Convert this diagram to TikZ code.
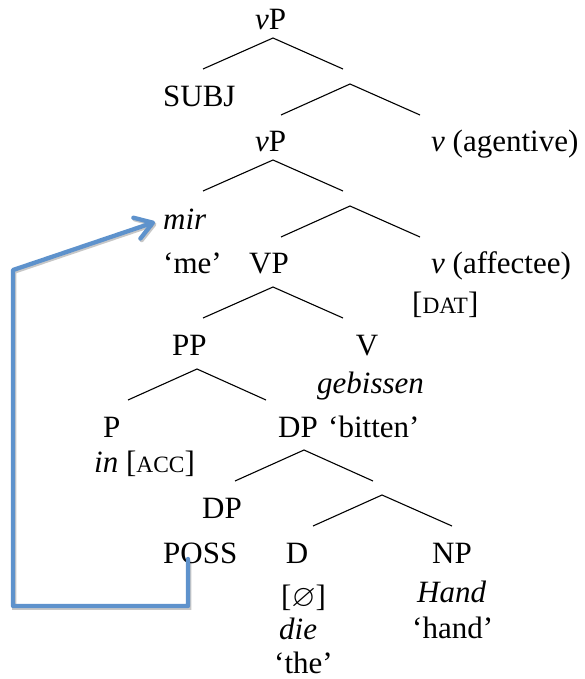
\documentclass[tikz,border=0pt]{standalone}
\usepackage{fontspec}
\setmainfont{Liberation Serif}
\usepackage{amssymb}
\usetikzlibrary{arrows.meta}
\definecolor{arrowblue}{RGB}{94,146,204}
\newcommand\fsc[1]{{\fontsize{23.4}{23.4}\selectfont #1}}
\begin{document}
\begin{tikzpicture}[x=1pt,y=-1pt,
  lbl/.style={inner sep=0pt, anchor=base west, font=\fontsize{31}{36}\selectfont},
  branch/.style={draw=black, line width=1.1pt},
  movearrow/.style={draw=arrowblue, line width=4.3pt, line join=round, line cap=round,
    -{Straight Barb[length=17pt,width=22pt,round]},
    preaction={draw=black, opacity=0.22, line width=4.3pt, transform canvas={xshift=1.3pt,yshift=-1.6pt}}}]
\useasboundingbox (0,0) rectangle (584,679);
% labels
\node[lbl] (vp1) at (255,30) {\textit{v}P};
\node[lbl] (subj) at (163,107) {SUBJ};
\node[lbl] (vp2) at (255,152) {\textit{v}P};
\node[lbl] (vag) at (431,152) {\textit{v} (agentive)};
\node[lbl] (mir) at (163,229) {\textit{mir}};
\node[lbl] (me) at (163,273) {‘me’};
\node[lbl] (vpp) at (249,273) {VP};
\node[lbl] (vaf) at (431,273) {\textit{v} (affectee)};
\node[lbl] (dat) at (412,313) {[\fsc{DAT}]};
\node[lbl] (pp) at (172,355) {PP};
\node[lbl, anchor=base] (v) at (367,355) {V};
\node[lbl] (geb) at (317,393) {\textit{gebissen}};
\node[lbl] (p) at (103,437) {P};
\node[lbl] (dp1) at (278,437) {DP};
\node[lbl] (bitten) at (328,437) {‘bitten’};
\node[lbl] (in) at (94,472) {\textit{in} [\fsc{ACC}]};
\node[lbl] (dp2) at (202,518) {DP};
\node[lbl] (poss) at (163,563) {POSS};
\node[lbl, anchor=base] (d) at (297,563) {D};
\node[lbl] (np) at (432,563) {NP};
\node[lbl] (empty) at (281,606) {[$\varnothing$]};
\node[lbl] (hand) at (417,602) {\textit{Hand}};
\node[lbl] (die) at (279,639) {\textit{die}};
\node[lbl] (handgl) at (412,638) {‘hand’};
\node[lbl] (the) at (274,673) {‘the’};
% branches
\draw[branch] (203,69) coordinate (t1l) -- (273,38) coordinate (t1a) -- (343,69) coordinate (t1r);
\draw[branch] (281,115) coordinate (t2l) -- (350,84) coordinate (t2a) -- (420,115) coordinate (t2r);
\draw[branch] (203,191) coordinate (t3l) -- (273,160) coordinate (t3a) -- (343,191) coordinate (t3r);
\draw[branch] (281,237) coordinate (t4l) -- (350,206) coordinate (t4a) -- (420,237) coordinate (t4r);
\draw[branch] (203,318) coordinate (t5l) -- (273,287) coordinate (t5a) -- (343,318) coordinate (t5r);
\draw[branch] (128,400) coordinate (t6l) -- (197,369) coordinate (t6a) -- (266,400) coordinate (t6r);
\draw[branch] (235,481) coordinate (t7l) -- (304,450) coordinate (t7a) -- (373,481) coordinate (t7r);
\draw[branch] (313,526) coordinate (t8l) -- (382,495) coordinate (t8a) -- (452,526) coordinate (t8r);
% movement arrow
\coordinate (possfoot) at (188,559);
\coordinate (bendA) at (188,606);
\coordinate (bendB) at (13,606);
\coordinate (bendC) at (13,270);
\coordinate (mirtip) at (155,222);
\draw[movearrow] (possfoot) -- (bendA) -- (bendB) -- (bendC) -- (mirtip);
\end{tikzpicture}
\end{document}
